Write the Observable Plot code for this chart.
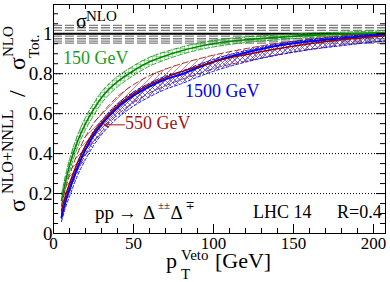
<!DOCTYPE html>
<html><head><meta charset="utf-8">
<script src="https://cdn.jsdelivr.net/npm/d3@7"></script>
<script src="https://cdn.jsdelivr.net/npm/@observablehq/plot@0.6"></script>
<style>body{margin:0;background:#fff} svg{display:block} svg, svg text{font-family:"Liberation Serif","DejaVu Serif",serif !important}</style>
</head><body><div id="chart"></div>
<script>
// ---- data ----
const pT = [5,7.5,10,15,20,25,30,35,40,50,60,70,80,90,100,120,140,160,180,200,207];

const green150   = [0.165,0.26,0.34,0.46,0.55,0.62,0.68,0.725,0.76,0.815,0.86,0.89,0.915,0.935,0.95,0.97,0.982,0.992,0.998,1.003,1.004];
const green150Lo = [0.135,0.23,0.31,0.43,0.52,0.59,0.652,0.698,0.734,0.791,0.838,0.87,0.897,0.918,0.934,0.956,0.97,0.981,0.988,0.993,0.994];
const green150Hi = [0.195,0.29,0.37,0.49,0.58,0.65,0.708,0.752,0.786,0.839,0.882,0.91,0.933,0.952,0.966,0.984,0.994,1.003,1.008,1.013,1.014];

const red550   = [0.115,0.19,0.25,0.355,0.44,0.505,0.555,0.6,0.64,0.7,0.745,0.78,0.81,0.835,0.86,0.895,0.925,0.95,0.97,0.985,0.99];
const red550Lo = [0.095,0.16,0.215,0.315,0.395,0.46,0.51,0.555,0.595,0.656,0.703,0.74,0.771,0.798,0.825,0.863,0.895,0.922,0.944,0.96,0.965];
const red550Hi = [0.14,0.225,0.29,0.4,0.485,0.55,0.6,0.645,0.685,0.745,0.79,0.823,0.85,0.873,0.893,0.925,0.952,0.973,0.99,1.003,1.007];

const blue1500   = [0.08,0.16,0.22,0.33,0.42,0.49,0.545,0.59,0.63,0.69,0.735,0.772,0.797,0.83,0.86,0.905,0.94,0.962,0.978,0.992,0.997];
const blue1500Lo = [0.06,0.13,0.185,0.29,0.37,0.44,0.495,0.54,0.578,0.638,0.684,0.722,0.75,0.783,0.812,0.858,0.893,0.92,0.94,0.958,0.963];
const blue1500Hi = [0.1,0.18,0.24,0.35,0.44,0.51,0.565,0.61,0.65,0.708,0.752,0.788,0.812,0.843,0.872,0.915,0.948,0.97,0.985,0.998,1.003];

const nloBandLines = [1.042,1.03,1.017,0.988,0.975,0.963,0.953];
const nloCentral = [1];
const gridY = [0.2,0.4,0.6,0.8];

const xMajor = [0,50,100,150,200];
const xMajorLabels = ["0","50","100","150","200"];
const xMinor = [10,20,30,40,60,70,80,90,110,120,130,140,160,170,180,190];
const yMajor = [0,0.2,0.4,0.6,0.8,1];
const yMajorLabels = ["0","0.2","0.4","0.6","0.8","1"];
const yMinor = [0.05,0.1,0.15,0.25,0.3,0.35,0.45,0.5,0.55,0.65,0.7,0.75,0.85,0.9,0.95,1.05,1.1];

// ---- layout ----
const W=390,H=282,mL=53,mR=5,mT=4,mB=49;
const pw=W-mL-mR, ph=H-mT-mB;
const FONT="Liberation Serif";
const cG="#1f9a1f", cR="#a01515", cB="#0000ee";

const rows=(c,lo,hi)=>pT.map((x,i)=>({x,c:c[i],lo:lo[i],hi:hi[i]}));
const G=rows(green150,green150Lo,green150Hi);
const R=rows(red550,red550Lo,red550Hi);
const B=rows(blue1500,blue1500Lo,blue1500Hi);
const cv="monotone-x";

const band=(D,pat,col,dash)=>[
  Plot.areaY(D,{x:"x",y1:"lo",y2:"hi",fill:`url(#${pat})`,curve:cv}),
  Plot.lineY(D,{x:"x",y:"lo",stroke:col,strokeWidth:0.9,strokeDasharray:dash,curve:cv}),
  Plot.lineY(D,{x:"x",y:"hi",stroke:col,strokeWidth:0.9,strokeDasharray:dash,curve:cv})
];

const plot = Plot.plot({
  width:W,height:H,marginLeft:mL,marginRight:mR,marginTop:mT,marginBottom:mB,
  x:{domain:[0,207.5],axis:null},
  y:{domain:[0,1.1465],axis:null},
  style:{fontFamily:FONT,background:"white",color:"black"},
  marks:[
    Plot.ruleY(gridY,{stroke:"#000",strokeDasharray:"1,2",strokeWidth:1}),
    Plot.ruleY(nloBandLines,{stroke:"#808080",strokeDasharray:"9,3",strokeWidth:1.3}),
    Plot.ruleY(nloCentral,{stroke:"#000",strokeWidth:2}),
    ...band(G,"hG",cG,"5,2"),
    ...band(R,"hR",cR,"6,3"),
    ...band(B,"hB",cB,"3,2"),
    Plot.lineY(G,{x:"x",y:"c",stroke:"#008a00",strokeWidth:1.6,curve:cv}),
    Plot.lineY(B,{x:"x",y:"c",stroke:"#0000ff",strokeWidth:2,curve:cv}),
    Plot.lineY(R,{x:"x",y:"c",stroke:"#990000",strokeWidth:1.4,curve:cv}),
    Plot.frame({stroke:"#000",strokeWidth:1}),
    Plot.tickX(xMajor,{x:d=>d,insetTop:ph-9,stroke:"#000"}),
    Plot.tickX(xMajor,{x:d=>d,insetBottom:ph-9,stroke:"#000"}),
    Plot.tickX(xMinor,{x:d=>d,insetTop:ph-5,stroke:"#000"}),
    Plot.tickX(xMinor,{x:d=>d,insetBottom:ph-5,stroke:"#000"}),
    Plot.tickY(yMajor,{y:d=>d,insetRight:pw-9,stroke:"#000"}),
    Plot.tickY(yMajor,{y:d=>d,insetLeft:pw-9,stroke:"#000"}),
    Plot.tickY(yMinor,{y:d=>d,insetRight:pw-5,stroke:"#000"}),
    Plot.tickY(yMinor,{y:d=>d,insetLeft:pw-5,stroke:"#000"}),
    Plot.text(yMajor,{y:d=>d,text:(d,i)=>yMajorLabels[i],frameAnchor:"left",textAnchor:"end",dx:-1,fontSize:19,lineAnchor:"middle",fontFamily:FONT}),
    Plot.text(xMajor,{x:d=>d,text:(d,i)=>xMajorLabels[i],frameAnchor:"bottom",dy:10,fontSize:17,lineAnchor:"middle",fontFamily:FONT}),
    Plot.arrow([{x1:44.4,y1:0.544,x2:31.9,y2:0.544}],{x1:"x1",y1:"y1",x2:"x2",y2:"y2",stroke:cR,strokeWidth:1,headLength:7})
  ]
});

const svg=d3.select(plot).attr("font-family",FONT).style("font-family",FONT);
const defs=svg.insert("defs",":first-child");
const pat=(id,size,d,col,w)=>{const p=defs.append("pattern").attr("id",id).attr("patternUnits","userSpaceOnUse").attr("width",size).attr("height",size);
  p.append("path").attr("d",d).attr("stroke",col).attr("stroke-width",w).attr("fill","none");};
pat("hG",4,"M0,0H4M0,0V4","#2aa02a",0.8);
pat("hB",5,"M0,0L5,5M5,0L0,5","#3333ff",0.7);
pat("hR",6,"M0,6L6,0","#c03030",0.6);

const sx=plot.scale("x"), sy=plot.scale("y");
function txt(x,y,s,o={}){
  const t=svg.append("text").attr("x",x).attr("y",y).attr("font-size",o.size||18)
    .attr("font-family",FONT)
    .attr("fill",o.fill||"#000").attr("text-anchor",o.anchor||"start").text(s);
  if(o.rot) t.attr("transform",`rotate(-90 ${x} ${y})`);
  return t;
}
const at=(x,y,s,o)=>txt(sx.apply(x),sy.apply(y),s,o);

// annotations (data coordinates)
at(14.4,1.0265,"σ",{size:20});
at(20.6,1.059,"NLO",{size:15});
at(6.25,0.8465,"150 GeV",{size:18,fill:cG});
at(82.5,0.6815,"1500 GeV",{size:18,fill:cB});
at(45,0.519,"550 GeV",{size:18,fill:cR});
at(26.25,0.0715,"pp",{size:19});
at(40.6,0.0715,"→",{size:19});
at(56.25,0.0715,"Δ",{size:19});
at(65.6,0.1215,"±±",{size:11});
at(73.4,0.0715,"Δ",{size:19});
at(82.8,0.1215,"∓",{size:11});
at(125,0.0765,"LHC 14",{size:18});
at(177.5,0.0765,"R=0.4",{size:18});

// x axis label
txt(166,268,"p",{size:22});
txt(181,260,"Veto",{size:15});
txt(181,279,"T",{size:15});
txt(215,268,"[GeV]",{size:22});

// y axis label (rotated)
txt(25,212,"σ",{size:24,rot:1});
txt(13,194,"NLO+NNLL",{size:16,rot:1});
txt(25,97,"/",{size:24,rot:1});
txt(25,70,"σ",{size:24,rot:1});
txt(13,57,"NLO",{size:15,rot:1});
txt(39,58,"Tot.",{size:15,rot:1});

document.getElementById("chart").append(plot);
</script>
</body></html>
